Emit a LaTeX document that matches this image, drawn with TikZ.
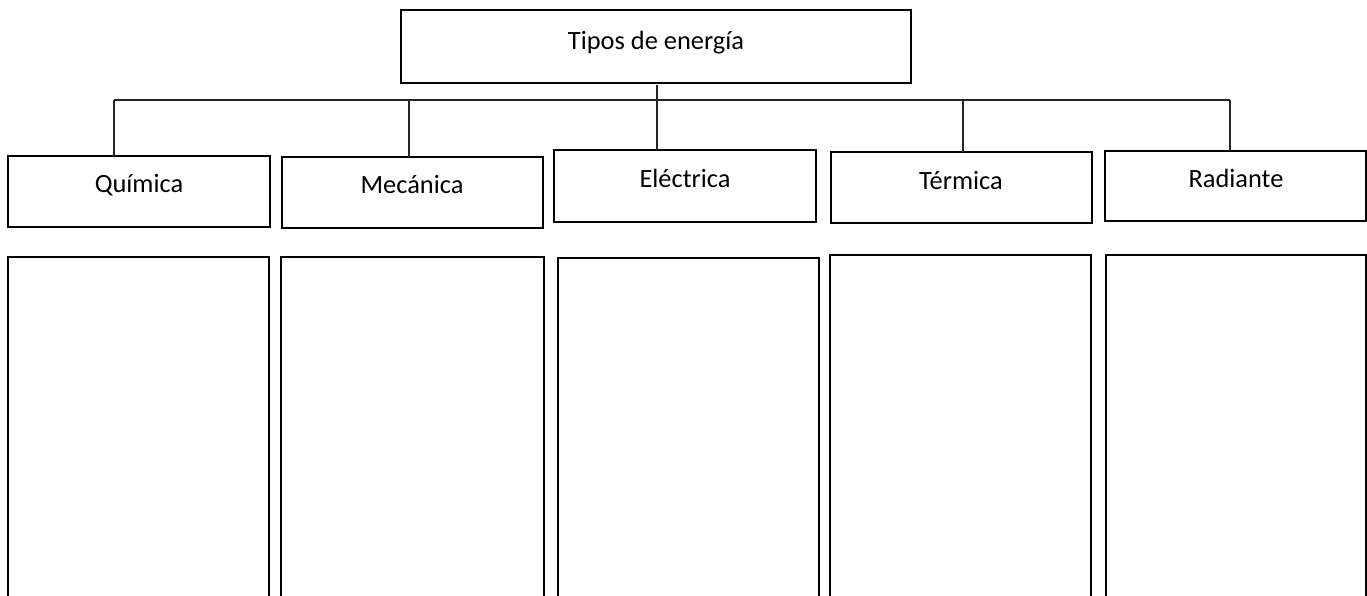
\documentclass[tikz,border=0pt]{standalone}
\usepackage{fontspec}
\setmainfont{Carlito}
\begin{document}
\begin{tikzpicture}[x=0.75pt,y=-0.75pt,
  cbox/.style={draw=black, line width=2pt, rectangle, inner sep=0pt, outer sep=0pt},
  lbl/.style={anchor=base, inner sep=0pt, font=\fontsize{19.8}{24}\selectfont},
  conn/.style={draw=black!85, line width=1pt}]
\useasboundingbox (0,0) rectangle (1367,596);
\clip (0,0) rectangle (1367,596);
% helper: box from x1..x2, y1..y2
\newcommand\mybox[5]{%
  \node[cbox, minimum width={(#3-#2)*0.75pt}, minimum height={(#5-#4)*0.75pt}]
    (#1) at ({(#2+#3)/2},{(#4+#5)/2}) {};}
\mybox{top}{401}{911}{10}{83}
\mybox{qui}{8}{270}{156}{227}
\mybox{mec}{282}{543}{157}{228}
\mybox{ele}{554}{816}{150}{222}
\mybox{ter}{831}{1092}{152}{223}
\mybox{rad}{1105}{1366}{151}{221}
% lower open boxes (run past the bottom edge)
\mybox{quib}{8}{269}{257}{640}
\mybox{mecb}{281}{544}{257}{640}
\mybox{eleb}{558}{819}{258}{640}
\mybox{terb}{830}{1091}{255}{640}
\mybox{radb}{1106}{1366}{255}{640}
% labels
\node[lbl] (toptx) at (656,49) {Tipos de energía};
\node[lbl] (quitx) at (139,192) {Química};
\node[lbl] (mectx) at (412,193) {Mecánica};
\node[lbl] (eletx) at (685,187) {Eléctrica};
\node[lbl] (tertx) at (961,189) {Térmica};
\node[lbl] (radtx) at (1236,187) {Radiante};
% connectors
\coordinate (s0) at (657,85);
\coordinate (b1) at (114,100);
\coordinate (b2) at (409,100);
\coordinate (b4) at (963,100);
\coordinate (b5) at (1230,100);
\draw[conn] (s0) -- (s0 |- ele.north) -- ++(0,-4);
\draw[conn] (b1) -- (b5);
\draw[conn] (b1) -- (b1 |- qui.north);
\draw[conn] (b2) -- (b2 |- mec.north);
\draw[conn] (b4) -- (b4 |- ter.north);
\draw[conn] (b5) -- (b5 |- rad.north);
\end{tikzpicture}
\end{document}
